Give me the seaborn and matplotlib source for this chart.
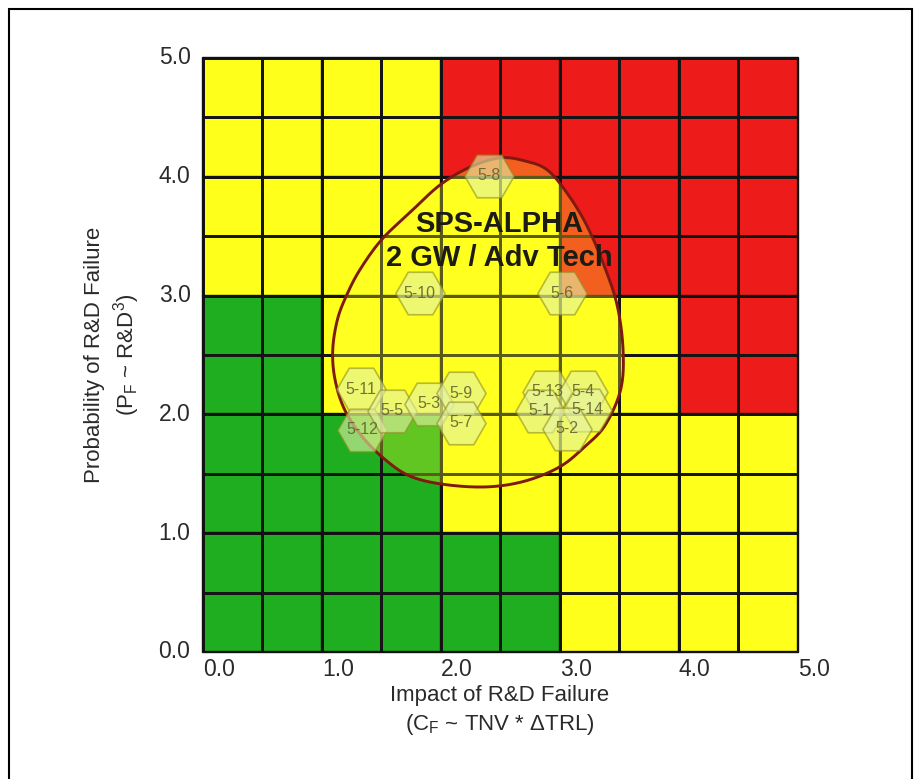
import numpy as np
import pandas as pd
import matplotlib
matplotlib.use("Agg")
import matplotlib.pyplot as plt
import seaborn as sns
from matplotlib.colors import ListedColormap
from matplotlib.patches import Rectangle

# Risk zones, bottom row first; each character is one 0.5 x 0.5 cell
zone_rows = [
    "GGGGGGYYYY",
    "GGGGGGYYYY",
    "GGGGYYYYYY",
    "GGGGYYYYYY",
    "GGYYYYYYRR",
    "GGYYYYYYRR",
    "YYYYYYRRRR",
    "YYYYYYRRRR",
    "YYYYRRRRRR",
    "YYYYRRRRRR",
]
zone_codes = "GYR"
zone_palette = ["#1fae1f", "#ffff1c", "#ee1b1b"]

tick_values = [0.0, 1.0, 2.0, 3.0, 4.0, 5.0]

# Technology elements (impact, probability)
element_labels = ["5-8", "5-10", "5-6", "5-11", "5-12", "5-5", "5-3", "5-9",
                  "5-7", "5-13", "5-4", "5-1", "5-14", "5-2"]
element_impact = [2.40, 1.82, 3.02, 1.33, 1.34, 1.59, 1.90, 2.17,
                  2.17, 2.89, 3.19, 2.83, 3.23, 3.06]
element_probability = [4.01, 3.02, 3.02, 2.21, 1.87, 2.03, 2.09, 2.18,
                       1.93, 2.19, 2.19, 2.03, 2.04, 1.88]

# Envelope of the SPS-ALPHA concept
outline_impact = [2.50, 2.72, 2.89, 3.04, 3.21, 3.36, 3.48, 3.53, 3.51, 3.38,
                  3.21, 3.00, 2.71, 2.39, 2.03, 1.74, 1.53, 1.34, 1.19, 1.11,
                  1.09, 1.13, 1.21, 1.32, 1.50, 1.74, 1.99, 2.24]
outline_probability = [4.16, 4.13, 4.06, 3.89, 3.62, 3.28, 2.92, 2.54, 2.21, 1.91,
                       1.73, 1.56, 1.44, 1.39, 1.41, 1.48, 1.62, 1.81, 2.04, 2.29,
                       2.54, 2.80, 3.01, 3.22, 3.47, 3.70, 3.93, 4.08]

concept_title = "SPS-ALPHA\n2 GW / Adv Tech"
concept_anchor = (2.49, 3.46)

CELLS_PER_UNIT = 2  # heatmap cells per axis unit


def closed_spline(xs, ys, samples=30):
    """Closed Catmull-Rom curve through the given vertices."""
    pts = np.column_stack([xs, ys]).astype(float)
    n = len(pts)
    t = np.linspace(0, 1, samples, endpoint=False)[:, None]
    segs = []
    for i in range(n):
        p0, p1, p2, p3 = pts[(i - 1) % n], pts[i], pts[(i + 1) % n], pts[(i + 2) % n]
        segs.append(0.5 * (2 * p1 + (-p0 + p2) * t
                           + (2 * p0 - 5 * p1 + 4 * p2 - p3) * t ** 2
                           + (-p0 + 3 * p1 - 3 * p2 + p3) * t ** 3))
    curve = np.vstack(segs)
    return np.vstack([curve, curve[:1]])


sns.set_style("white")
plt.rcParams["font.family"] = ["Liberation Sans", "DejaVu Sans"]

fig = plt.figure(figsize=(9.2, 7.79), dpi=100)
ax = fig.add_axes([203 / 920, 1 - 652 / 779, 595 / 920, 594 / 779])

codes = np.array([[zone_codes.index(c) for c in row] for row in zone_rows])
sns.heatmap(codes, cmap=ListedColormap(zone_palette), vmin=-0.5, vmax=2.5,
            cbar=False, linewidths=0.9, linecolor="#151515",
            xticklabels=False, yticklabels=False, ax=ax)
n_rows, n_cols = codes.shape
ax.set_ylim(0, n_rows)
ax.set_xlim(0, n_cols)

# heavier lines on whole units
for v in tick_values:
    ax.axvline(v * CELLS_PER_UNIT, color="#111111", lw=1.7, zorder=2, clip_on=False)
    ax.axhline(v * CELLS_PER_UNIT, color="#111111", lw=1.7, zorder=2, clip_on=False)

# concept envelope
env = closed_spline(outline_impact, outline_probability) * CELLS_PER_UNIT
ax.fill(env[:, 0], env[:, 1], color="#ffff2a", alpha=0.30, lw=0, zorder=3)
ax.plot(env[:, 0], env[:, 1], color="#7e1a10", lw=2.1, zorder=4)

# element hexagons
elements = pd.DataFrame({
    "label": element_labels,
    "impact": np.array(element_impact) * CELLS_PER_UNIT,
    "probability": np.array(element_probability) * CELLS_PER_UNIT,
})
sns.scatterplot(data=elements, x="impact", y="probability", marker="H", s=1250,
                color="#e4f2a6", alpha=0.6, edgecolor="#8f8f20", linewidth=1.2,
                legend=False, zorder=5, ax=ax)
for _, r in elements.iterrows():
    ax.text(r["impact"], r["probability"], r["label"], ha="center", va="center",
            fontsize=11.5, color="#5c5c2c", alpha=0.85, zorder=6)

ax.text(concept_anchor[0] * CELLS_PER_UNIT, concept_anchor[1] * CELLS_PER_UNIT,
        concept_title, ha="center", va="center", fontsize=21, fontweight="bold",
        color="#1c1c14", linespacing=1.3, zorder=7)

# ticks
ax.set_xticks([v * CELLS_PER_UNIT for v in tick_values])
ax.set_xticklabels([f"{v:.1f}" for v in tick_values], ha="left",
                   fontsize=16.5, color="#2a2a2a")
ax.set_yticks([v * CELLS_PER_UNIT for v in tick_values])
ax.set_yticklabels([f"{v:.1f}" for v in tick_values], rotation=0, va="center",
                   fontsize=16.5, color="#2a2a2a")
ax.tick_params(axis="x", length=0, pad=4)
ax.tick_params(axis="y", length=0, pad=9)
ax.set_xlabel("")
ax.set_ylabel("")

fig.text(500 / 920, 1 - 711 / 779,
         "Impact of R&D Failure\n(C$_\\mathregular{F}$ ~ TNV * \u0394TRL)",
         ha="center", va="center", fontsize=16, color="#2a2a2a", linespacing=1.3)
fig.text(113 / 920, 1 - 355 / 779,
         "Probability of R&D Failure\n(P$_\\mathregular{F}$ ~ R&D$^\\mathregular{3}$)",
         ha="center", va="center", rotation=90, fontsize=16, color="#2a2a2a",
         linespacing=1.3)

# outer frame
fig.patches.append(Rectangle((9 / 920, -0.05), (912 - 9) / 920, 1.05 - 9 / 779,
                             transform=fig.transFigure, fill=False, lw=1.5,
                             ec="black"))

fig.savefig("out.png", dpi=100)
